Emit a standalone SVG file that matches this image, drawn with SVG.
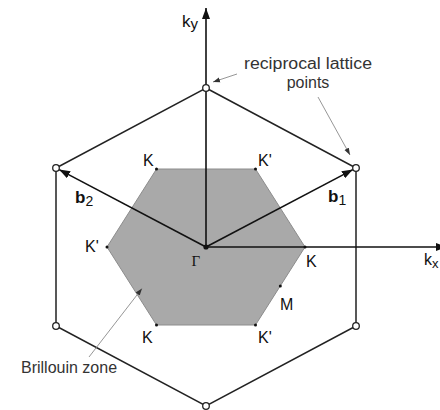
<svg xmlns="http://www.w3.org/2000/svg" width="440" height="410" viewBox="0 0 440 410">
<style>
  .lbl{font-family:"Liberation Sans",Arial,sans-serif;font-size:16px;fill:#111}
  .note{font-family:"Liberation Sans",Arial,sans-serif;font-size:16px;fill:#333}
  .greek{font-family:"Liberation Serif","Times New Roman",serif;font-size:15px;fill:#111}
  .bold{font-weight:bold}
  .edge{stroke:#222;stroke-width:1.5;fill:none}
  .axis{stroke:#111;stroke-width:1.6;fill:none}
  .vec{stroke:#111;stroke-width:1.6;fill:none}
  .leader{stroke:#8a8a8a;stroke-width:0.9;fill:none}
  .lp{fill:#fff;stroke:#222;stroke-width:1.3}
  .kdot{fill:#111}
  .bz{fill:#a9a9a9;stroke:#8c8c8c;stroke-width:1}
</style>
<defs>
  <marker id="ah" markerUnits="userSpaceOnUse" markerWidth="12" markerHeight="8" refX="11" refY="4" orient="auto">
    <path d="M0,0 L11,4 L0,8 Z" fill="#111"/>
  </marker>
  <marker id="ahs" markerUnits="userSpaceOnUse" markerWidth="8" markerHeight="6" refX="7" refY="3" orient="auto">
    <path d="M0,0.5 L7,3 L0,5.5 Z" fill="#333"/>
  </marker>
</defs>

<g id="brillouin-zone">
  <polygon class="bz" points="107,247 156.5,169 255.5,169 305,247 255.5,325 156.5,325"/>
</g>

<g id="reciprocal-lattice">
  <polygon class="edge" points="206,88 356,168 356,326 206,406 56,326 56,168"/>
</g>

<g id="connectors">
  <line class="axis" x1="206" y1="247" x2="206" y2="8" marker-end="url(#ah)"/>
  <line class="axis" x1="206" y1="247" x2="447" y2="247" marker-end="url(#ah)"/>
  <line class="vec" x1="206" y1="247" x2="352.9" y2="169.6" marker-end="url(#ah)"/>
  <line class="vec" x1="206" y1="247" x2="59.1" y2="169.6" marker-end="url(#ah)"/>
  <line class="leader" x1="237" y1="74" x2="213" y2="82" marker-end="url(#ahs)"/>
  <line class="leader" x1="318" y1="97" x2="350" y2="155" marker-end="url(#ahs)"/>
  <line class="leader" x1="89" y1="357" x2="142" y2="288.5" marker-end="url(#ahs)"/>
</g>

<g id="lattice-points">
  <circle class="lp" cx="206" cy="88" r="3.3"/>
  <circle class="lp" cx="356" cy="168" r="3.3"/>
  <circle class="lp" cx="356" cy="326" r="3.3"/>
  <circle class="lp" cx="206" cy="406" r="3.3"/>
  <circle class="lp" cx="56" cy="326" r="3.3"/>
  <circle class="lp" cx="56" cy="168" r="3.3"/>
</g>

<g id="symmetry-points">
  <circle class="kdot" cx="206" cy="247" r="2.6"/>
  <circle class="kdot" cx="156.5" cy="169" r="1.5"/>
  <circle class="kdot" cx="255.5" cy="169" r="1.5"/>
  <circle class="kdot" cx="107" cy="247" r="1.5"/>
  <circle class="kdot" cx="305" cy="247" r="1.5"/>
  <circle class="kdot" cx="156.5" cy="325" r="1.5"/>
  <circle class="kdot" cx="255.5" cy="325" r="1.5"/>
  <circle class="kdot" cx="280.3" cy="286" r="1.5"/>
</g>

<g id="labels">
  <text class="lbl" x="182" y="27" style="font-size:17px">k<tspan dy="2" style="font-size:15px">y</tspan></text>
  <text class="lbl" x="424" y="265">k<tspan dy="3" style="font-size:13px">x</tspan></text>
  <text class="lbl" x="143" y="166">K</text>
  <text class="lbl" x="258" y="166">K'</text>
  <text class="lbl" x="85" y="252">K'</text>
  <text class="greek" x="191.5" y="266">Γ</text>
  <text class="lbl" x="306" y="267">K</text>
  <text class="lbl" x="280" y="310">M</text>
  <text class="lbl" x="142" y="343">K</text>
  <text class="lbl" x="258" y="343">K'</text>
  <text class="lbl" x="75" y="203"><tspan class="bold" style="font-size:17px">b</tspan><tspan dy="3" style="font-size:14px">2</tspan></text>
  <text class="lbl" x="328" y="202"><tspan class="bold" style="font-size:17px">b</tspan><tspan dy="3" style="font-size:14px">1</tspan></text>
  <text class="note" x="308" y="69" text-anchor="middle" textLength="128" lengthAdjust="spacingAndGlyphs">reciprocal lattice</text>
  <text class="note" x="308" y="88" text-anchor="middle">points</text>
  <text class="note" x="21" y="373">Brillouin zone</text>
</g>
</svg>
